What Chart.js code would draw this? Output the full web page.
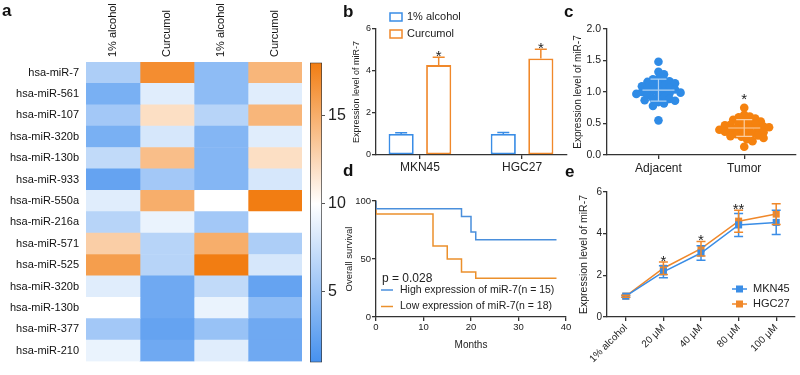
<!DOCTYPE html>
<html>
<head>
<meta charset="utf-8">
<script src="https://cdn.jsdelivr.net/npm/chart.js@4.4.1/dist/chart.umd.min.js"></script>
<style>
  html, body { margin: 0; padding: 0; background: #fff; }
  #fig { position: relative; width: 800px; height: 375px; overflow: hidden; font-family: Arial, "Liberation Sans", sans-serif; }
  #fig canvas { position: absolute; }
  .tag { position: absolute; font-weight: bold; font-size: 17px; line-height: 1; color: #111; }
</style>
</head>
<body>
<div id="fig">
  <canvas id="heat" width="305" height="375" style="left:0;top:0"></canvas>
  <canvas id="scale" width="60" height="325" style="left:300px;top:50px"></canvas>
  <canvas id="chartB" width="230" height="185" style="left:345px;top:0"></canvas>
  <canvas id="chartC" width="230" height="185" style="left:570px;top:0"></canvas>
  <canvas id="chartD" width="235" height="190" style="left:340px;top:185px"></canvas>
  <canvas id="chartE" width="230" height="190" style="left:570px;top:185px"></canvas>
  <div class="tag" style="left:2px;top:2px">a</div>
  <div class="tag" style="left:343px;top:3px">b</div>
  <div class="tag" style="left:564px;top:3px">c</div>
  <div class="tag" style="left:343px;top:162px">d</div>
  <div class="tag" style="left:565px;top:163px">e</div>
</div>
<script>
// ---- data ----
// a: heatmap
const heatRows = ['hsa-miR-7', 'hsa-miR-561', 'hsa-miR-107', 'hsa-miR-320b', 'hsa-miR-130b', 'hsa-miR-933', 'hsa-miR-550a',
                  'hsa-miR-216a', 'hsa-miR-571', 'hsa-miR-525', 'hsa-miR-320b', 'hsa-miR-130b', 'hsa-miR-377', 'hsa-miR-210'];
const heatCols = ['1% alcohol', 'Curcumol', '1% alcohol', 'Curcumol'];
const heatAlcohol1  = [6, 3.5, 5.5, 3.5, 7, 2.5, 8.5, 6.5, 13, 16, 8.5, 10, 5.5, 9];
const heatCurcumol1 = [17, 8.5, 12, 8, 14, 5.5, 15, 9, 6.5, 6.5, 3, 3, 2.5, 3];
const heatAlcohol2  = [4.5, 4.5, 6.5, 4, 4, 4, 10, 5.5, 15, 18, 7, 9, 5, 8.5];
const heatCurcumol2 = [14.5, 8.5, 14.5, 8.5, 12, 8, 18, 10, 6, 8, 2.5, 4.5, 3, 3];
const heatMin = 1, heatMax = 18;
const colorbarTicks = [5, 10, 15];

// b: bar chart
const bGroups = ['MKN45', 'HGC27'];
const bAlcohol = [1.0, 1.0];
const bAlcoholSd = [0.06, 0.07];
const bCurcumol = [4.28, 4.6];
const bCurcumolSd = [0.38, 0.43];
const bStars = ['*', '*'];

// c: dot plot
const cGroups = ['Adjacent', 'Tumor'];
const cAdjacent = [1.48, 1.32, 1.28, 1.21, 1.2, 1.19, 1.17, 1.16, 1.14, 1.12, 1.11, 1.1, 1.09, 1.07, 1.05, 1.04, 1.03,
                   1.02, 1.01, 1.0, 0.99, 0.98, 0.97, 0.95, 0.93, 0.92, 0.9, 0.89, 0.87, 0.86, 0.84, 0.82, 0.78, 0.55];
const cTumor = [0.75, 0.64, 0.61, 0.6, 0.58, 0.56, 0.55, 0.53, 0.52, 0.5, 0.49, 0.48, 0.47, 0.46, 0.45, 0.44, 0.43,
                0.42, 0.41, 0.4, 0.39, 0.38, 0.37, 0.36, 0.35, 0.34, 0.33, 0.31, 0.3, 0.29, 0.27, 0.25, 0.22, 0.13];

// d: survival
const dHighMonths = [0, 18, 20, 21, 24, 38];
const dHighSurv   = [100, 93.3, 86.7, 73.3, 66.7, 66.7];
const dLowMonths  = [0, 12, 15, 18, 21, 24, 38];
const dLowSurv    = [100, 88.9, 61.1, 50, 38.9, 33.3, 33.3];
const dPValue = 'p = 0.028';

// e: dose response
const eDoses = ['1% alcohol', '20 μM', '40 μM', '80 μM', '100 μM'];
const eMKN45 = [1.0, 2.17, 3.07, 4.42, 4.54];
const eMKN45Sd = [0.05, 0.29, 0.35, 0.55, 0.58];
const eHGC27 = [1.0, 2.34, 3.28, 4.6, 4.94];
const eHGC27Sd = [0.05, 0.3, 0.35, 0.53, 0.5];
const eStars = ['', '*', '*', '**', ''];

// ---- style ----
const FONT = 'Arial, "Liberation Sans", Helvetica, sans-serif';
Chart.defaults.font.family = FONT;
Chart.defaults.color = '#222';
const BLUE = '#3a8de6';
const ORANGE = '#f0882a';
const AXIS = '#333';

// colour map of the heatmap: blue - white - orange
const cmapStops = [[1, [70, 145, 238]], [10, [255, 255, 255]], [18, [242, 125, 18]]];
function heatColor(v) {
    for (let i = 1; i < cmapStops.length; i++) {
        const [v0, c0] = cmapStops[i - 1];
        const [v1, c1] = cmapStops[i];
        if (v <= v1 || i === cmapStops.length - 1) {
            const t = Math.max(0, Math.min(1, (v - v0) / (v1 - v0)));
            const c = c0.map((a, k) => Math.round(a + (c1[k] - a) * t));
            return `rgb(${c.join(',')})`;
        }
    }
}

function axisBase(extra) {
    return Object.assign({
        grid: { drawOnChartArea: false, tickLength: 4, color: AXIS, lineWidth: 1.3 },
        border: { display: true, color: AXIS, width: 1.3 },
    }, extra);
}

// error bars + significance marks, drawn through the y scale
const errorBars = {
    id: 'errorBars',
    afterDatasetsDraw(chart) {
        const ctx = chart.ctx, ys = chart.scales.y;
        chart.data.datasets.forEach((ds, i) => {
            if (!ds.errors) return;
            const meta = chart.getDatasetMeta(i);
            ctx.save();
            ctx.strokeStyle = ds.borderColor;
            ctx.lineWidth = 1.5;
            meta.data.forEach((el, j) => {
                const d = ds.data[j];
                const v = typeof d === 'object' ? d.y : d;
                const e = ds.errors[j];
                const top = ys.getPixelForValue(v + e);
                const bot = ys.getPixelForValue(ds.bothWays ? v - e : v);
                const w = ds.capWidth;
                ctx.beginPath();
                ctx.moveTo(el.x, bot); ctx.lineTo(el.x, top);
                ctx.moveTo(el.x - w / 2, top); ctx.lineTo(el.x + w / 2, top);
                if (ds.bothWays) { ctx.moveTo(el.x - w / 2, bot); ctx.lineTo(el.x + w / 2, bot); }
                ctx.stroke();
                if (ds.stars && ds.stars[j]) {
                    ctx.fillStyle = '#222';
                    ctx.font = '15px ' + FONT;
                    ctx.textAlign = 'center';
                    ctx.textBaseline = 'alphabetic';
                    ctx.fillText(ds.stars[j], el.x, top + 4);
                }
            });
            ctx.restore();
        });
    }
};

// ---- a: heatmap ----
const heatValues = [heatAlcohol1, heatCurcumol1, heatAlcohol2, heatCurcumol2];
new Chart(document.getElementById('heat'), {
    type: 'bar',
    data: {
        labels: heatRows,
        datasets: heatValues.map((vals, i) => ({
            label: heatCols[i],
            data: vals.map(() => 1),
            backgroundColor: vals.map(heatColor),
            borderWidth: 0,
            barPercentage: 1,
            categoryPercentage: 1
        }))
    },
    options: {
        indexAxis: 'y',
        responsive: false,
        animation: false,
        layout: { padding: { left: 0, right: 3, top: 0, bottom: 3 } },
        plugins: { legend: { display: false }, tooltip: { enabled: false } },
        scales: {
            x: {
                position: 'top', stacked: true, min: 0, max: heatCols.length,
                afterBuildTicks: s => { s.ticks = heatCols.map((c, i) => ({ value: i + 0.5 })); },
                afterFit: s => { s.height = 62; },
                ticks: { autoSkip: false, minRotation: 90, maxRotation: 90, padding: 5, labelOffset: 13,
                         font: { size: 11 }, color: '#111', callback: v => heatCols[Math.floor(v)] },
                grid: { display: false, drawTicks: false },
                border: { display: false }
            },
            y: {
                stacked: true,
                afterFit: s => { s.width = 86; },
                ticks: { autoSkip: false, padding: 7, font: { size: 11 }, color: '#111' },
                grid: { display: false, drawTicks: false },
                border: { display: false }
            }
        }
    }
});

// colour bar
function gradientFill(context) {
    const chart = context.chart, ys = chart.scales.y;
    if (!chart.chartArea || !ys) return null;
    const g = chart.ctx.createLinearGradient(0, ys.getPixelForValue(heatMin), 0, ys.getPixelForValue(heatMax));
    cmapStops.forEach(([v, c]) => g.addColorStop((v - heatMin) / (heatMax - heatMin), `rgb(${c.join(',')})`));
    return g;
}
new Chart(document.getElementById('scale'), {
    type: 'bar',
    data: {
        labels: [''],
        datasets: [{ data: [[heatMin, heatMax]], backgroundColor: gradientFill, borderColor: '#333', borderWidth: 1,
                     borderSkipped: false, barPercentage: 1, categoryPercentage: 1 }]
    },
    options: {
        responsive: false,
        animation: false,
        layout: { padding: { left: 10, right: 0, top: 8, bottom: 5 } },
        plugins: { legend: { display: false }, tooltip: { enabled: false } },
        scales: {
            x: { display: false },
            y: {
                position: 'right', min: heatMin, max: heatMax,
                afterBuildTicks: s => { s.ticks = colorbarTicks.map(v => ({ value: v })); },
                afterFit: s => { s.width = 38; },
                ticks: { font: { size: 16 }, color: '#222', padding: 3 },
                grid: { drawOnChartArea: false, tickLength: 3, color: '#555' },
                border: { display: false }
            }
        }
    }
});

// ---- b: bars ----
const bLegend = {
    id: 'bLegend',
    afterDraw(chart) {
        const { ctx, chartArea: ca } = chart;
        ctx.save();
        ctx.font = '11px ' + FONT;
        ctx.textBaseline = 'middle';
        chart.data.datasets.forEach((ds, i) => {
            const y = 17 + i * 17;
            ctx.strokeStyle = ds.borderColor;
            ctx.lineWidth = 1.5;
            ctx.strokeRect(ca.left + 14, y - 4, 12, 8);
            ctx.fillStyle = '#222';
            ctx.fillText(ds.label, ca.left + 31, y);
        });
        ctx.restore();
    }
};
new Chart(document.getElementById('chartB'), {
    type: 'bar',
    data: {
        datasets: [
            { label: '1% alcohol', data: bAlcohol.map((v, i) => ({ x: i + 1, y: v })), errors: bAlcoholSd, capWidth: 12,
              backgroundColor: '#fff', borderColor: BLUE, borderWidth: 1.8, borderSkipped: false },
            { label: 'Curcumol', data: bCurcumol.map((v, i) => ({ x: i + 1, y: v })), errors: bCurcumolSd, capWidth: 12,
              stars: bStars, backgroundColor: '#fff', borderColor: ORANGE, borderWidth: 1.8, borderSkipped: false }
        ]
    },
    options: {
        responsive: false,
        animation: false,
        categoryPercentage: 0.735,
        barPercentage: 0.67,
        layout: { padding: { left: 6, right: 8, top: 29, bottom: 5 } },
        plugins: { legend: { display: false }, tooltip: { enabled: false } },
        scales: {
            x: axisBase({
                type: 'linear', min: 0.57, max: 2.44, offset: false,
                afterBuildTicks: s => { s.ticks = bGroups.map((g, i) => ({ value: i + 1 })); },
                afterFit: s => { s.height = 25; },
                ticks: { font: { size: 12 }, padding: 1, color: '#222', callback: v => bGroups[v - 1] },
                grid: { offset: false, drawOnChartArea: false, tickLength: 4, color: AXIS, lineWidth: 1.3 }
            }),
            y: axisBase({
                min: 0, max: 6,
                afterFit: s => { s.width = 25; },
                ticks: { stepSize: 2, font: { size: 9 }, padding: 1 },
                title: { display: true, text: 'Expression level of miR-7', font: { size: 9 }, padding: 0 }
            })
        }
    },
    plugins: [errorBars, bLegend]
});

// ---- c: scatter dot plot ----
// simple beeswarm so dots at similar values sit side by side
function swarmX(values, center) {
    const pxX = 87, pxY = 63, gap = 5.6;
    const placed = [];
    return values.map(v => {
        let off = 0;
        for (let k = 0; k < 80; k++) {
            const cand = (k % 2 ? 1 : -1) * Math.ceil(k / 2) * gap / 2;
            const hit = placed.some(p => Math.hypot(p.dx - cand, (p.v - v) * pxY) < gap);
            if (!hit) { off = cand; break; }
        }
        placed.push({ dx: off, v });
        return center + off / pxX;
    });
}
function meanSd(arr) {
    const m = arr.reduce((a, b) => a + b, 0) / arr.length;
    const sd = Math.sqrt(arr.reduce((a, b) => a + (b - m) ** 2, 0) / (arr.length - 1));
    return [m, sd];
}
const adjX = swarmX(cAdjacent, 1);
const tumX = swarmX(cTumor, 2);
const cSummary = {
    id: 'cSummary',
    afterDatasetsDraw(chart) {
        const { ctx } = chart;
        const xs = chart.scales.x, ys = chart.scales.y;
        ctx.save();
        ctx.strokeStyle = 'rgba(255,255,255,0.6)';
        ctx.lineWidth = 1.2;
        [cAdjacent, cTumor].forEach((arr, i) => {
            const [m, sd] = meanSd(arr);
            const x = xs.getPixelForValue(i + 1);
            const ym = ys.getPixelForValue(m), yt = ys.getPixelForValue(m + sd), yb = ys.getPixelForValue(m - sd);
            ctx.beginPath();
            ctx.moveTo(x - 16, ym); ctx.lineTo(x + 16, ym);
            ctx.moveTo(x, yt); ctx.lineTo(x, yb);
            ctx.moveTo(x - 8, yt); ctx.lineTo(x + 8, yt);
            ctx.moveTo(x - 8, yb); ctx.lineTo(x + 8, yb);
            ctx.stroke();
        });
        ctx.fillStyle = '#222';
        ctx.font = '15px ' + FONT;
        ctx.textAlign = 'center';
        ctx.fillText('*', xs.getPixelForValue(2), ys.getPixelForValue(0.9) + 6);
        ctx.restore();
    }
};
new Chart(document.getElementById('chartC'), {
    type: 'scatter',
    data: {
        datasets: [
            { label: 'Adjacent', data: cAdjacent.map((v, i) => ({ x: adjX[i], y: v })), backgroundColor: '#2f8be6',
              borderWidth: 0, pointRadius: 4.3 },
            { label: 'Tumor', data: cTumor.map((v, i) => ({ x: tumX[i], y: v })), backgroundColor: '#f5820f',
              borderWidth: 0, pointRadius: 4.3 }
        ]
    },
    options: {
        responsive: false,
        animation: false,
        layout: { padding: { left: 2, right: 2, top: 29, bottom: 5 } },
        plugins: { legend: { display: false }, tooltip: { enabled: false } },
        scales: {
            x: axisBase({
                min: 0.4, max: 2.6,
                afterBuildTicks: s => { s.ticks = cGroups.map((g, i) => ({ value: i + 1 })); },
                afterFit: s => { s.height = 25; },
                ticks: { font: { size: 12 }, padding: 2, color: '#222', callback: v => cGroups[v - 1] }
            }),
            y: axisBase({
                min: 0, max: 2,
                afterFit: s => { s.width = 35; },
                ticks: { stepSize: 0.5, font: { size: 10.5 }, padding: 2, callback: v => v.toFixed(1) },
                title: { display: true, text: 'Expression level of miR-7', font: { size: 10 }, padding: 0 }
            })
        }
    },
    plugins: [cSummary]
});

// ---- d: survival curves ----
const dLegend = {
    id: 'dLegend',
    afterDraw(chart) {
        const { ctx, chartArea: ca } = chart;
        ctx.save();
        ctx.textBaseline = 'middle';
        ctx.fillStyle = '#222';
        ctx.font = '12px ' + FONT;
        ctx.fillText(dPValue, ca.left + 6, ca.bottom - 38);
        ctx.font = '10.5px ' + FONT;
        chart.data.datasets.forEach((ds, i) => {
            const y = ca.bottom - 27 + i * 16.5;
            ctx.strokeStyle = ds.borderColor;
            ctx.lineWidth = 1.5;
            ctx.beginPath(); ctx.moveTo(ca.left + 5, y); ctx.lineTo(ca.left + 17, y); ctx.stroke();
            ctx.fillStyle = '#222';
            ctx.fillText(ds.label, ca.left + 24, y);
        });
        ctx.restore();
    }
};
new Chart(document.getElementById('chartD'), {
    type: 'line',
    data: {
        datasets: [
            { label: 'High expression of miR-7(n = 15)', data: dHighMonths.map((m, i) => ({ x: m, y: dHighSurv[i] })),
              borderColor: '#4a8fdc', borderWidth: 1.5, stepped: 'after', pointRadius: 0, fill: false },
            { label: 'Low expression of miR-7(n = 18)', data: dLowMonths.map((m, i) => ({ x: m, y: dLowSurv[i] })),
              borderColor: '#eb902c', borderWidth: 1.5, stepped: 'after', pointRadius: 0, fill: false }
        ]
    },
    options: {
        responsive: false,
        animation: false,
        layout: { padding: { left: 4, right: 9, top: 16, bottom: 24 } },
        plugins: { legend: { display: false }, tooltip: { enabled: false } },
        scales: {
            x: axisBase({
                type: 'linear', min: 0, max: 40,
                afterFit: s => { s.height = 34; },
                ticks: { stepSize: 10, font: { size: 9.5 }, padding: 1 },
                title: { display: true, text: 'Months', font: { size: 10 }, padding: 0 }
            }),
            y: axisBase({
                min: 0, max: 100,
                afterFit: s => { s.width = 32; },
                ticks: { stepSize: 50, font: { size: 9.5 }, padding: 1 },
                title: { display: true, text: 'Overall survival', font: { size: 9.5 }, padding: 0 }
            })
        }
    },
    plugins: [dLegend]
});

// ---- e: dose response ----
const eLegend = {
    id: 'eLegend',
    afterDraw(chart) {
        const { ctx, chartArea: ca } = chart;
        ctx.save();
        ctx.textBaseline = 'middle';
        ctx.font = '11px ' + FONT;
        chart.data.datasets.forEach((ds, i) => {
            const y = ca.bottom - 28 + i * 15;
            ctx.strokeStyle = ds.borderColor;
            ctx.lineWidth = 1.5;
            ctx.beginPath(); ctx.moveTo(ca.right - 63, y); ctx.lineTo(ca.right - 48, y); ctx.stroke();
            ctx.fillStyle = ds.pointBackgroundColor;
            ctx.fillRect(ca.right - 59, y - 3.5, 7, 7);
            ctx.fillStyle = '#222';
            ctx.fillText(ds.label, ca.right - 42, y);
        });
        ctx.restore();
    }
};
new Chart(document.getElementById('chartE'), {
    type: 'line',
    data: {
        labels: eDoses,
        datasets: [
            { label: 'MKN45', data: eMKN45, errors: eMKN45Sd, bothWays: true, capWidth: 9,
              borderColor: BLUE, pointBackgroundColor: BLUE, pointBorderWidth: 0, borderWidth: 1.5,
              pointStyle: 'rect', pointRadius: 5 },
            { label: 'HGC27', data: eHGC27, errors: eHGC27Sd, bothWays: true, capWidth: 9, stars: eStars,
              borderColor: ORANGE, pointBackgroundColor: ORANGE, pointBorderWidth: 0, borderWidth: 1.5,
              pointStyle: 'rect', pointRadius: 5 }
        ]
    },
    options: {
        responsive: false,
        animation: false,
        layout: { padding: { left: 8, right: 2, top: 5, bottom: 1 } },
        plugins: { legend: { display: false }, tooltip: { enabled: false } },
        scales: {
            x: axisBase({
                offset: true,
                afterFit: s => { s.height = 57; },
                ticks: { autoSkip: false, minRotation: 45, maxRotation: 45, font: { size: 10 }, padding: 1, color: '#222' },
                grid: { offset: false, drawOnChartArea: false, tickLength: 4, color: AXIS, lineWidth: 1.3 }
            }),
            y: axisBase({
                min: 0, max: 6,
                afterFit: s => { s.width = 29; },
                ticks: { stepSize: 2, font: { size: 10 }, padding: 1 },
                title: { display: true, text: 'Expression level of miR-7', font: { size: 10.5 }, padding: 0 }
            })
        }
    },
    plugins: [errorBars, eLegend]
});
</script>
</body>
</html>
